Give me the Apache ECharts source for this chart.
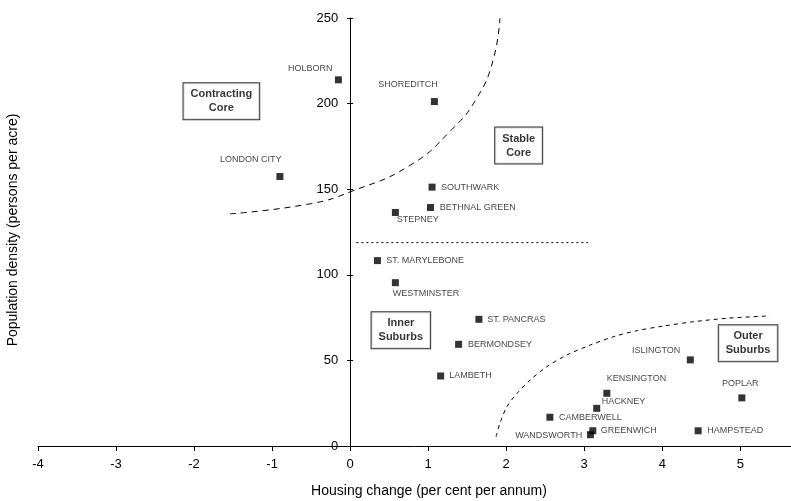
<!DOCTYPE html>
<html>
<head>
<meta charset="utf-8">
<script src="https://cdn.jsdelivr.net/npm/echarts@6/dist/echarts.min.js"></script>
<style>
html,body{margin:0;padding:0;background:#fff;}
#chart{width:791px;height:501px;}
</style>
</head>
<body>
<div id="chart"></div>
<script>
const xTicks = [-4, -3, -2, -1, 0, 1, 2, 3, 4, 5];
const yTicks = [0, 50, 100, 150, 200, 250];

const districts = ['HOLBORN','SHOREDITCH','LONDON CITY','SOUTHWARK','BETHNAL GREEN','STEPNEY',
  'ST. MARYLEBONE','WESTMINSTER','ST. PANCRAS','BERMONDSEY','LAMBETH','ISLINGTON',
  'KENSINGTON','HACKNEY','CAMBERWELL','GREENWICH','WANDSWORTH','POPLAR','HAMPSTEAD'];
const housingChange = [-0.15, 1.08, -0.90, 1.05, 1.03, 0.58, 0.35, 0.58, 1.65, 1.39, 1.16, 4.36,
  3.29, 3.16, 2.56, 3.11, 3.08, 5.02, 4.46];
const density = [213.9, 201.2, 157.4, 151.2, 139.3, 136.4, 108.3, 95.4, 74.0, 59.4, 40.9, 50.3,
  30.8, 22.0, 16.8, 8.9, 6.6, 28.1, 8.9];

const upperCurveX = [-1.54, -0.51, 0.01, 0.77, 1.30, 1.62, 1.83, 1.92];
const upperCurveY = [135.6, 141.5, 148.6, 164.0, 184.7, 203.0, 225.0, 250.0];
const lowerCurveX = [1.87, 1.92, 2.01, 2.14, 2.31, 2.52, 2.78, 3.08, 3.38, 3.68, 4.02, 4.40, 4.83, 5.38];
const lowerCurveY = [5.4, 13.3, 23.0, 30.8, 38.6, 46.3, 53.2, 59.0, 63.9, 67.4, 70.1, 72.6, 74.6, 76.0];
const dividerX = [0.08, 3.05];
const dividerY = [118.8, 118.8];

const zoneNames = ['Contracting\nCore', 'Stable\nCore', 'Inner\nSuburbs', 'Outer\nSuburbs'];
const zoneX = [-1.65, 2.16, 0.65, 5.10];
const zoneY = [201.3, 175.5, 67.6, 60.0];

// label placement: [align, dx, dy] relative to marker centre
const labelPlace = {
  'HOLBORN': ['right', -6, -11.7],
  'SHOREDITCH': ['center', -26.5, -16.7],
  'LONDON CITY': ['right', 1.7, -16.7],
  'SOUTHWARK': ['left', 9, 0],
  'BETHNAL GREEN': ['left', 9.3, 0],
  'STEPNEY': ['left', 1.4, 7.3],
  'ST. MARYLEBONE': ['left', 8.7, 0],
  'WESTMINSTER': ['left', -2.6, 10.6],
  'ST. PANCRAS': ['left', 8.3, 0],
  'BERMONDSEY': ['left', 9.4, 0],
  'LAMBETH': ['left', 8.6, -0.7],
  'ISLINGTON': ['right', -10, -9.3],
  'KENSINGTON': ['left', 0, -14.3],
  'HACKNEY': ['left', 5, -6.6],
  'CAMBERWELL': ['left', 9, 0],
  'GREENWICH': ['left', 8, -0.7],
  'WANDSWORTH': ['right', -8.3, 1.3],
  'POPLAR': ['center', -1.7, -14.7],
  'HAMPSTEAD': ['left', 9, -0.7]
};

const FONT = 'Liberation Sans, Arial, sans-serif';
const SYM = 7;
const GRID_LEFT = 38;
const zip = (a, b) => a.map((v, i) => [v, b[i]]);

const pointData = districts.map((n, i) => {
  const p = labelPlace[n];
  return {
    name: n,
    value: [housingChange[i], density[i]],
    label: {
      position: [SYM / 2 + p[1], SYM / 2 + p[2]],
      align: p[0],
      verticalAlign: 'middle'
    }
  };
});

function yAxisDef(offset) {
  return [{
    type: 'value', min: 0, max: 250, interval: 50, offset: offset,
    splitLine: {show: false},
    axisLine: {show: true, onZero: false, lineStyle: {color: '#000', width: 1}},
    axisTick: {show: true, length: 3, lineStyle: {color: '#000'}, customValues: yTicks},
    axisLabel: {customValues: yTicks, color: '#000', fontSize: 13, fontFamily: FONT, margin: 12}
  }, {
    type: 'value', min: 0, max: 250, interval: 50, position: 'left', offset: offset,
    splitLine: {show: false},
    axisLine: {show: false, onZero: false},
    axisTick: {show: true, inside: true, length: 3, lineStyle: {color: '#000'}, customValues: yTicks},
    axisLabel: {show: false}
  }];
}

const chart = echarts.init(document.getElementById('chart'), null, {renderer: 'canvas'});
chart.setOption({
  animation: false,
  backgroundColor: '#fff',
  grid: {left: GRID_LEFT, right: 0, top: 18, bottom: 55, containLabel: false},
  xAxis: {
    type: 'value', min: -4, max: 5.65, interval: 1,
    splitLine: {show: false},
    axisLine: {show: true, onZero: true, lineStyle: {color: '#000', width: 1}},
    axisTick: {show: true, length: 5, lineStyle: {color: '#000'}, customValues: xTicks},
    axisLabel: {customValues: xTicks, color: '#000', fontSize: 13, fontFamily: FONT, margin: 12}
  },
  yAxis: yAxisDef(0),
  graphic: [
    {type: 'text', x: 429, y: 491, style: {text: 'Housing change (per cent per annum)', font: '14px ' + FONT, fill: '#000', align: 'center', verticalAlign: 'middle'}},
    {type: 'text', x: 13, y: 230, rotation: Math.PI / 2, style: {text: 'Population density (persons per acre)', font: '14px ' + FONT, fill: '#000', align: 'center', verticalAlign: 'middle'}}
  ],
  series: [
    {
      type: 'line', data: zip(upperCurveX, upperCurveY), smooth: 0.5, showSymbol: false, silent: true,
      lineStyle: {color: '#000', width: 1, type: [6, 5]}, z: 1
    },
    {
      type: 'line', data: zip(lowerCurveX, lowerCurveY), smooth: 0.3, showSymbol: false, silent: true,
      lineStyle: {color: '#000', width: 1, type: [4, 4]}, z: 1
    },
    {
      type: 'line', data: zip(dividerX, dividerY), showSymbol: false, silent: true,
      lineStyle: {color: '#000', width: 1, type: [2, 3]}, z: 1
    },
    {
      type: 'scatter', symbol: 'rect', symbolSize: SYM, data: pointData,
      itemStyle: {color: '#000'},
      label: {show: true, formatter: '{b}', fontSize: 9, fontFamily: FONT, color: '#111'},
      z: 3
    },
    {
      type: 'scatter', symbolSize: 0,
      data: zoneNames.map((n, i) => ({name: n, value: [zoneX[i], zoneY[i]]})),
      label: {
        show: true, position: 'inside', formatter: '{b}', fontSize: 11, fontWeight: 'bold', fontFamily: FONT,
        color: '#000', lineHeight: 14, backgroundColor: '#fff', borderColor: '#000', borderWidth: 1,
        padding: [4, 7], align: 'center', verticalAlign: 'middle'
      },
      z: 4
    }
  ]
});
// place the y axis on x = 0 using the library's own x scale
const zeroPx = chart.convertToPixel({xAxisIndex: 0}, 0);
chart.setOption({yAxis: yAxisDef(-(zeroPx - GRID_LEFT))});
</script>
</body>
</html>
